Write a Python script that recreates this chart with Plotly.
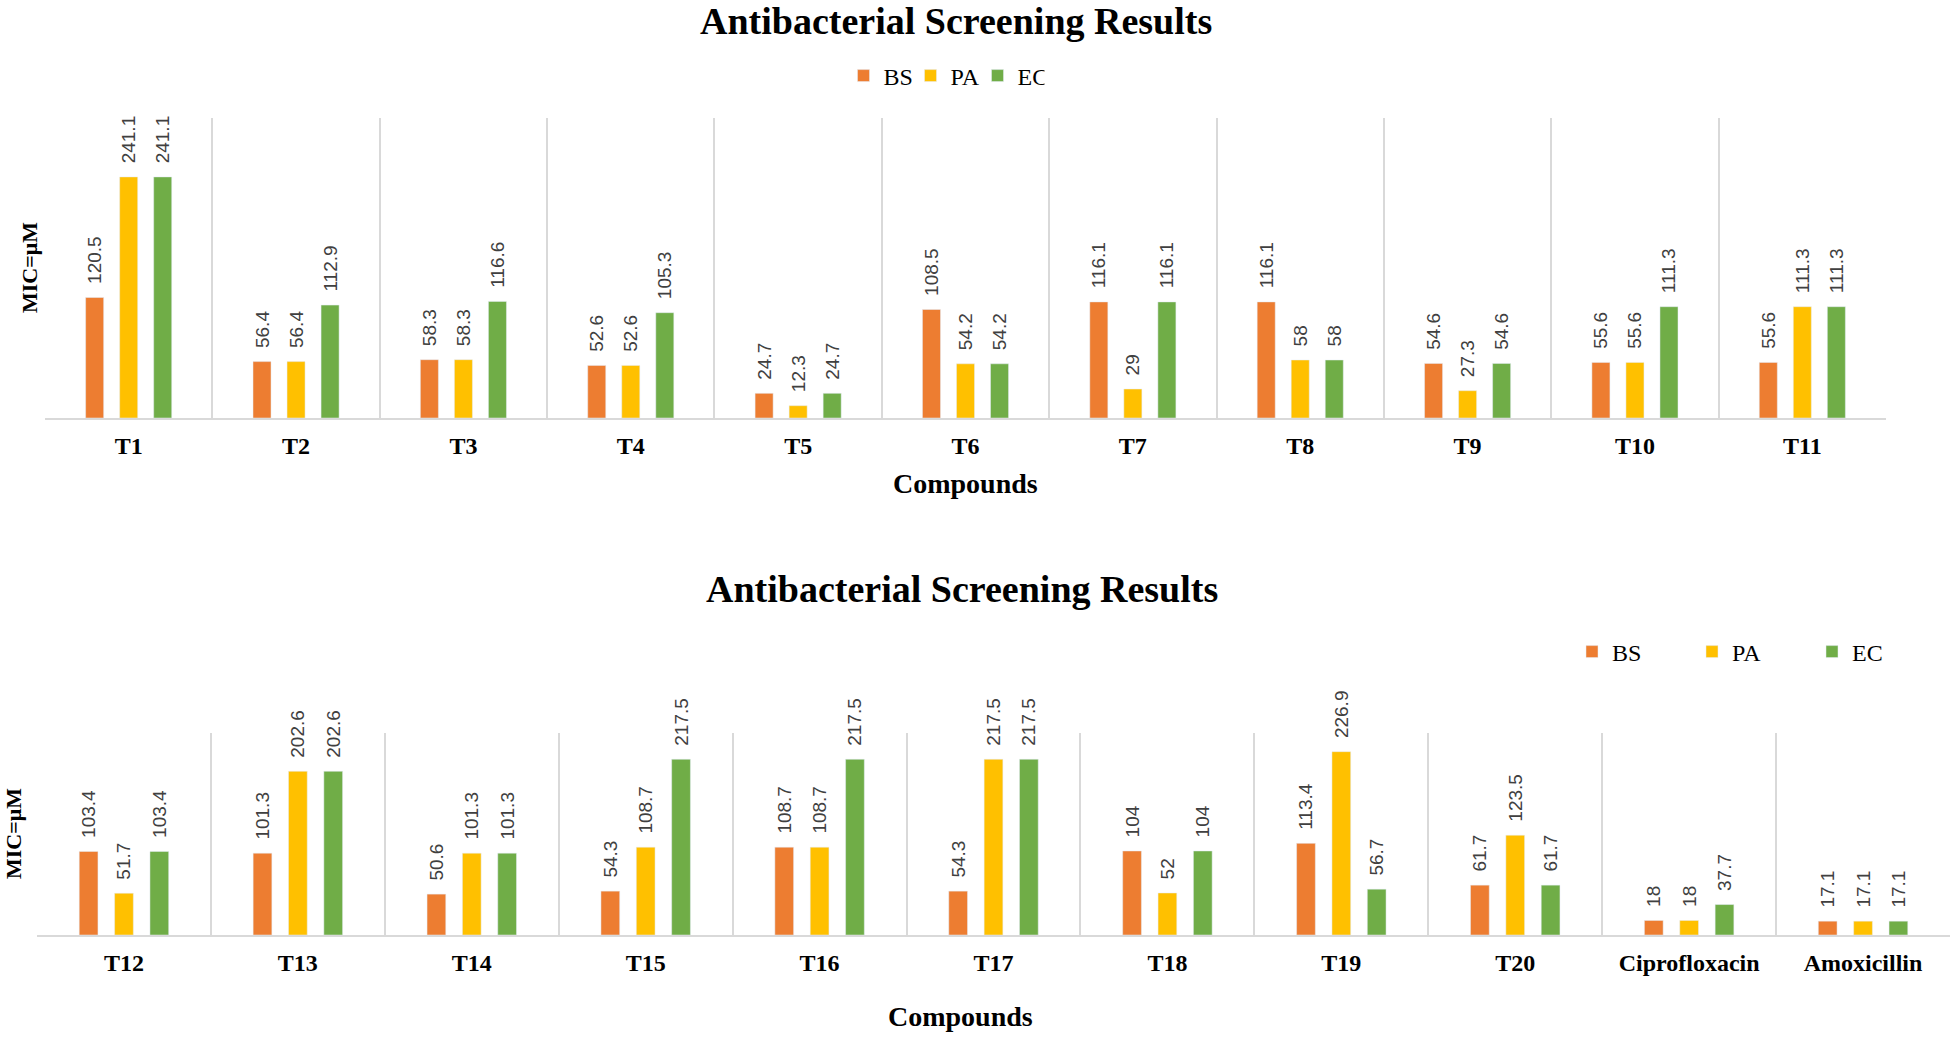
import plotly.graph_objects as go

# top chart data
top_compounds = ['T1', 'T2', 'T3', 'T4', 'T5', 'T6', 'T7', 'T8', 'T9', 'T10', 'T11']
top_bs = [120.5, 56.4, 58.3, 52.6, 24.7, 108.5, 116.1, 116.1, 54.6, 55.6, 55.6]
top_pa = [241.1, 56.4, 58.3, 52.6, 12.3, 54.2, 29, 58, 27.3, 55.6, 111.3]
top_ec = [241.1, 112.9, 116.6, 105.3, 24.7, 54.2, 116.1, 58, 54.6, 111.3, 111.3]

# bottom chart data
bot_compounds = ['T12', 'T13', 'T14', 'T15', 'T16', 'T17', 'T18', 'T19', 'T20',
                 'Ciprofloxacin', 'Amoxicillin']
bot_bs = [103.4, 101.3, 50.6, 54.3, 108.7, 54.3, 104, 113.4, 61.7, 18, 17.1]
bot_pa = [51.7, 202.6, 101.3, 108.7, 108.7, 217.5, 52, 226.9, 123.5, 18, 17.1]
bot_ec = [103.4, 202.6, 101.3, 217.5, 217.5, 217.5, 104, 56.7, 61.7, 37.7, 17.1]

series_names = ['BS', 'PA', 'EC']
colors = ['#ED7D31', '#FFC000', '#70AD47']

W, H = 1954, 1037
serif = 'Liberation Serif'
label_font = dict(family='Liberation Sans', size=19, color='#404040')
# two no-break spaces push the rotated labels a little off the bar tops
label_tpl = '\u00a0\u00a0%{y}'

fig = go.Figure()

for name, vals, col in zip(series_names, [top_bs, top_pa, top_ec], colors):
    fig.add_trace(go.Bar(x=top_compounds, y=vals, name=name, marker_color=col,
                         texttemplate=label_tpl, textposition='outside', constraintext='none',
                         textangle=-90, textfont=label_font, cliponaxis=False,
                         xaxis='x', yaxis='y', legend='legend'))

for name, vals, col in zip(series_names, [bot_bs, bot_pa, bot_ec], colors):
    fig.add_trace(go.Bar(x=bot_compounds, y=vals, name=name, marker_color=col,
                         texttemplate=label_tpl, textposition='outside', constraintext='none',
                         textangle=-90, textfont=label_font, cliponaxis=False,
                         xaxis='x2', yaxis='y2', legend='legend2'))


def px_x(p):
    return p / W


def px_y(p):
    return 1 - p / H


xaxis_common = dict(type='category', showgrid=True, gridcolor='#D9D9D9', gridwidth=1.5,
                    tickson='boundaries', ticks='', showline=True, linecolor='#D9D9D9',
                    linewidth=2, tickfont=dict(family=serif, size=24, color='black',
                                               weight='bold'),
                    ticklabelstandoff=5, automargin=False, fixedrange=True)
yaxis_common = dict(visible=False, showgrid=False, zeroline=False, automargin=False,
                    fixedrange=True)

fig.update_layout(
    width=W, height=H, autosize=False,
    margin=dict(l=0, r=0, t=0, b=0),
    paper_bgcolor='white', plot_bgcolor='white',
    barmode='group', bargap=0.39, bargroupgap=0.47,
    xaxis=dict(domain=[px_x(45), px_x(1886)], anchor='y', **xaxis_common),
    yaxis=dict(domain=[px_y(418), px_y(118)], range=[0, 300], anchor='x', **yaxis_common),
    xaxis2=dict(domain=[px_x(37), px_x(1950)], anchor='y2', **xaxis_common),
    yaxis2=dict(domain=[px_y(935), px_y(733)], range=[0, 250], anchor='x2', **yaxis_common),
    legend=dict(orientation='h', x=px_x(944), xanchor='center', y=px_y(76), yanchor='middle',
                font=dict(family=serif, size=24, color='black'),
                entrywidth=22, entrywidthmode='pixels', bgcolor='rgba(0,0,0,0)'),
    legend2=dict(orientation='h', x=px_x(1572), xanchor='left', y=px_y(652), yanchor='middle',
                 font=dict(family=serif, size=24, color='black'),
                 entrywidth=75, entrywidthmode='pixels', bgcolor='rgba(0,0,0,0)'),
)

title_font = dict(family=serif, size=38, color='black', weight='bold')
axis_title_font = dict(family=serif, size=28, color='black', weight='bold')
y_title_font = dict(family=serif, size=22, color='black', weight='bold')

annotations = [
    dict(text='Antibacterial Screening Results', x=px_x(956), y=px_y(21), font=title_font),
    dict(text='Antibacterial Screening Results', x=px_x(962), y=px_y(589), font=title_font),
    dict(text='Compounds', x=px_x(965), y=px_y(484), font=axis_title_font),
    dict(text='Compounds', x=px_x(960), y=px_y(1016), font=axis_title_font),
    dict(text='MIC=μM', x=px_x(29), y=px_y(268), font=y_title_font, textangle=-90),
    dict(text='MIC=μM', x=px_x(13), y=px_y(834), font=y_title_font, textangle=-90),
]
for a in annotations:
    fig.add_annotation(xref='paper', yref='paper', showarrow=False,
                       xanchor='center', yanchor='middle', **a)

# the page body has a default 8px margin; drop it so the figure fills the window
fig.write_html('out.html', config={'displayModeBar': False},
               post_script="document.body.style.margin='0';")
